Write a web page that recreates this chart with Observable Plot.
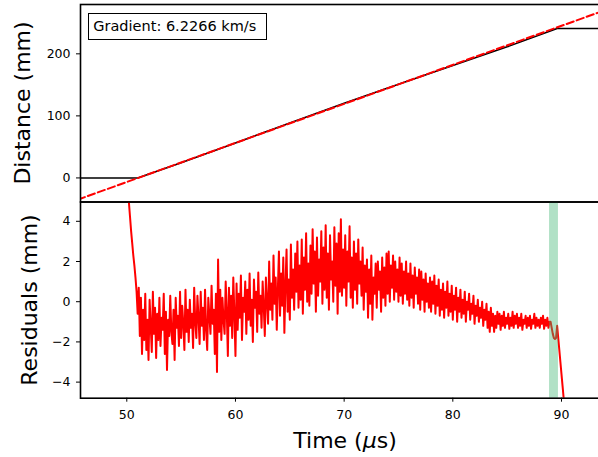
<!DOCTYPE html>
<html><head><meta charset="utf-8">
<script src="https://cdn.jsdelivr.net/npm/d3@7"></script>
<script src="https://cdn.jsdelivr.net/npm/@observablehq/plot@0.6"></script>
<style>
html,body{margin:0;padding:0;background:#fff;overflow:hidden;}
#root{position:relative;width:598px;height:457px;overflow:hidden;font-family:"DejaVu Sans",sans-serif;color:#000;background:#fff;}
#root svg{position:absolute;left:0;max-width:none !important;background:transparent !important;overflow:visible;}
.lab{position:absolute;white-space:nowrap;line-height:1;font-size:22px;}
.box{position:absolute;left:87.7px;top:12.7px;width:179px;height:27px;box-sizing:border-box;border:1px solid #000;background:#fff;font-size:14.5px;line-height:25px;padding-left:4.6px;white-space:nowrap;}
</style></head><body><div id="root"></div>
<script>
// ---- Top panel: measured distance and linear fit ----
const distTime = [45.5, 51.0, 55, 60, 65, 70, 75, 80, 85, 89.6, 94.6];
const distMm   = [0, 0, 24.6, 56.4, 88.4, 120.4, 151, 181.3, 211.3, 240.8, 240.8];
const fitTime  = [45.5, 94.6];
const fitMm    = [-34.9, 274.1];
const distTicks = [0, 100, 200];
const gradientText = "Gradient: 6.2266 km/s";

// ---- Bottom panel: residuals (sampled every 0.1 µs from 50.0 µs) ----
const resStart = 50.0, resStep = 0.1;
const residuals = [
 6.3, 5.6, 4.9, 4.2, 3.5, 2.9, 2.3, 1.8, 1.2, 0.5,
 -0.6, 0.7, -1.7, 0.2, -2.6, -0.4, -1.9, 0.4, -2.4, -0.9,
 -2.9, 0.1, -1.2, -2.5, 0.5, -1.6, -0.3, -2.8, -0.6, -1.9,
 0.2, -2.2, -0.8, -1.4, 0.4, -2.6, -0.5, -3.4, -0.9, -1.7,
 0.3, -1.5, -2.1, -0.4, -2.9, 0.2, -1.3, -0.7, -2.2, 0.5,
 -1.8, -0.2, -1.1, -2.4, 0.6, -1.5, -0.4, -2.0, 0.1, -1.3,
 -0.6, -2.3, 0.7, -1.0, -1.8, 0.3, -0.8, -2.1, 0.5, -1.2,
 -0.3, -1.9, 0.6, -1.4, -2.4, 0.2, -0.7, -1.6, 0.8, -1.1,
 -0.4, -2.6, 0.4, -3.5, 2.1, -1.5, 0.6, -1.9, 0.2, -0.9,
 -1.6, 1.0, -0.5, -2.7, 0.7, -1.2, 0.3, -1.8, 1.2, -0.6,
 -2.7, 0.9, -1.4, 0.4, -0.8, 1.3, -1.9, 0.2, -0.5, 1.0,
 -1.6, 0.6, -0.9, 1.4, -1.2, 0.1, -2.0, 1.1, -0.3, 0.5,
 -1.5, 1.45, -0.6, 0.3, -1.3, 1.0, -0.2, -1.7, 1.2, 0.0,
 -1.1, 2.0, -0.4, 0.9, -0.9, 2.3, -0.1, 1.2, -1.4, 0.6,
 2.5, -0.7, 1.4, -0.2, 2.2, -1.55, 0.8, 2.6, -0.5, 1.1,
 -0.9, 2.85, 0.2, 1.6, -0.4, 2.4, 0.5, 3.0, -0.3, 1.8,
 0.1, 3.1, -0.6, 2.2, 0.6, 3.4, 0.0, 1.9, -0.2, 2.8,
 0.4, 3.6, 0.9, 2.5, -0.5, 3.2, 0.3, 2.1, 1.0, 3.5,
 -0.1, 2.7, 0.6, 3.8, 0.2, 2.4, -0.4, 3.3, 1.1, 2.0,
 0.0, 3.7, 0.8, 2.9, -0.6, 3.4, 0.5, 4.1, 0.3, 2.6,
 0.7, 3.3, -0.2, 2.5, 1.0, 3.75, 0.2, 2.2, -0.3, 3.0,
 0.6, 2.4, -0.1, 3.1, 0.9, 2.0, 0.3, 2.7, -0.4, 1.8,
 0.5, 2.1, -0.8, 1.6, -0.1, 2.3, -0.9, 1.2, 0.4, 1.9,
 -0.3, 2.0, 0.6, 1.5, -0.5, 2.2, 0.2, 1.7, -0.2, 2.4,
 0.4, 2.5, 0.0, 1.8, 0.7, 2.3, 0.1, 2.0, 0.5, 1.6,
 0.0, 2.2, 0.3, 1.9, -0.1, 1.5, 0.4, 2.0, 0.1, 1.4,
 -0.2, 1.9, 0.2, 1.3, -0.3, 1.7, 0.4, 1.2, -0.1, 1.6,
 -0.4, 1.5, 0.1, 1.1, -0.5, 1.4, 0.0, 0.9, -0.3, 1.2,
 -0.5, 1.0, -0.1, 1.3, -0.6, 0.8, -0.2, 1.1, -0.7, 0.6,
 -0.4, 0.9, -0.8, 0.5, -0.3, 1.0, -0.7, 0.4, -0.5, 0.8,
 -0.9, 0.3, -0.4, 0.7, -1.0, 0.2, -0.5, 0.6, -0.8, 0.1,
 -0.6, 0.5, -1.0, 0.0, -0.4, 0.4, -0.9, -0.1, -0.6, 0.3,
 -1.1, -0.2, -0.7, 0.1, -1.0, -0.3, -0.8, 0.0, -1.2, -0.4,
 -0.9, -0.1, -1.3, -0.5, -1.5, -0.3, -1.2, -0.6, -1.5, -0.7,
 -1.3, -0.5, -1.1, -0.6, -1.4, -0.7, -1.2, -0.5, -1.3, -0.8,
 -1.1, -0.6, -1.35, -0.8, -1.2, -0.5, -1.3, -0.7, -1.1, -0.6,
 -1.3, -0.8, -1.2, -0.6, -1.4, -0.9, -1.1, -0.7, -1.3, -0.8,
 -1.2, -0.7, -1.35, -0.9, -1.1, -0.6, -1.3, -0.8, -1.2, -0.9,
 -1.3, -0.8, -1.1, -0.7, -1.35, -0.9, -1.2, -0.8, -1.3, -1.0,
 -1.0, -1.3, -1.6, -1.8, -1.85, -1.8, -1.2, -1.8, -2.4, -3.0,
 -3.6, -4.2, -4.8, -5.4
];
const resTime = residuals.map((_, i) => +(resStart + i * resStep).toFixed(2));
const bandTime = [88.9, 89.72];
const timeTicks = [50, 60, 70, 80, 90];
const resTicks = [-4, -2, 0, 2, 4];

const xDomain = [45.74, 94.51];
const minus = d => d < 0 ? "\u2212" + Math.abs(d) : String(d);
const baseStyle = {fontSize: "12.5px", fontFamily: "DejaVu Sans", background: "transparent", maxWidth: "none", overflow: "visible"};

const topPlot = Plot.plot({
  width: 620, height: 202,
  marginLeft: 80, marginRight: 10, marginTop: 4, marginBottom: 0.5,
  style: baseStyle,
  x: {domain: xDomain, axis: null},
  y: {domain: [-38.8, 279.5], ticks: distTicks, tickSize: 4, tickPadding: 6, label: null, tickFormat: minus},
  marks: [
    Plot.line(distMm, {x: distTime, y: distMm, stroke: "black", strokeWidth: 1.6, clip: true}),
    Plot.line(fitMm, {x: fitTime, y: fitMm, stroke: "red", strokeWidth: 2, strokeDasharray: "7.4,3.2", clip: true}),
    Plot.frame({stroke: "black", strokeWidth: 1.6})
  ]
});

const bottomPlot = Plot.plot({
  width: 620, height: 257,
  marginLeft: 80, marginRight: 10, marginTop: 1.5, marginBottom: 59.3,
  style: baseStyle,
  x: {domain: xDomain, ticks: timeTicks, tickSize: 4, tickPadding: 8, label: null},
  y: {domain: [-4.80, 4.96], ticks: resTicks, tickSize: 4, tickPadding: 6, label: null, tickFormat: minus},
  marks: [
    Plot.line(residuals, {x: resTime, y: residuals, stroke: "red", strokeWidth: 2, clip: true}),
    Plot.rect([bandTime], {x1: d => d[0], x2: d => d[1], fill: "#3cb371", fillOpacity: 0.4}),
    Plot.frame({stroke: "black", strokeWidth: 1.6})
  ]
});

const root = document.getElementById("root");
topPlot.style.top = "0px";
bottomPlot.style.top = "200px";
root.appendChild(topPlot);
root.appendChild(bottomPlot);

function addLabel(html, css) {
  const d = document.createElement("div");
  d.className = "lab";
  d.innerHTML = html;
  Object.assign(d.style, css);
  root.appendChild(d);
}
addLabel("Distance (mm)", {left: "23px", top: "102.7px", transform: "translate(-50%,-50%) rotate(-90deg)"});
addLabel("Residuals (mm)", {left: "29.5px", top: "300px", transform: "translate(-50%,-50%) rotate(-90deg)"});
addLabel("Time (<i>μ</i>s)", {left: "345px", top: "430.4px", transform: "translateX(-50%)"});

const box = document.createElement("div");
box.className = "box";
box.textContent = gradientText;
root.appendChild(box);
</script>
</body></html>
